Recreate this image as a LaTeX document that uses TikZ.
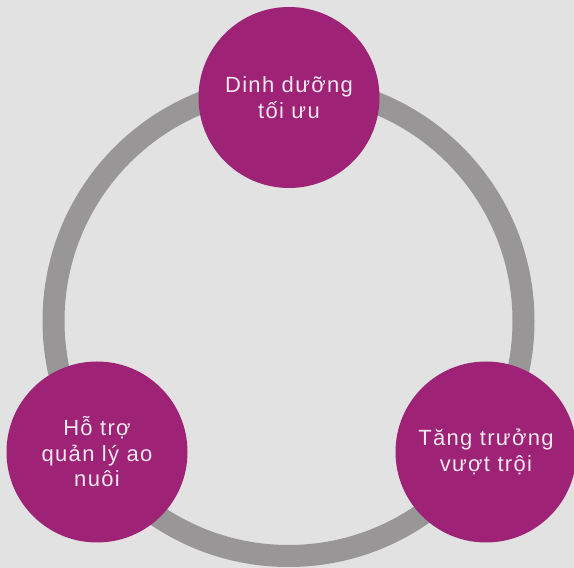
\documentclass[tikz,border=0pt]{standalone}
\usepackage{fontspec}
\setmainfont{Liberation Sans}[LetterSpace=6]
\definecolor{bgGrey}{HTML}{E1E2E1}
\definecolor{ringGrey}{HTML}{989696}
\definecolor{plum}{HTML}{9E2276}
\definecolor{plumText}{HTML}{F2E8F0}
\begin{document}
\begin{tikzpicture}[
    x=1pt, y=1pt,
    every node/.style={font=\fontsize{22}{25.5}\selectfont},
    ring/.style={draw=ringGrey, line width=22pt},
    topic/.style={circle, fill=plum, minimum size=181pt, inner sep=0pt,
        align=center, text=plumText},
]
% background and bounding box
\fill[bgGrey] (0,0) rectangle (574,568);
\useasboundingbox (0,0) rectangle (574,568);

% the ring behind the topics
\coordinate (hub) at (288.5,247);
\draw[ring] (hub) circle[radius=235];

% topics
\node[topic] (diet)   at (289,470.5) {Dinh dưỡng\\tối ưu};
\node[topic] (pond)   at (97,116)    {Hỗ trợ\\quản lý ao\\nuôi};
\node[topic] (growth) at (486,116)   {Tăng trưởng\\vượt trội};
\end{tikzpicture}
\end{document}
